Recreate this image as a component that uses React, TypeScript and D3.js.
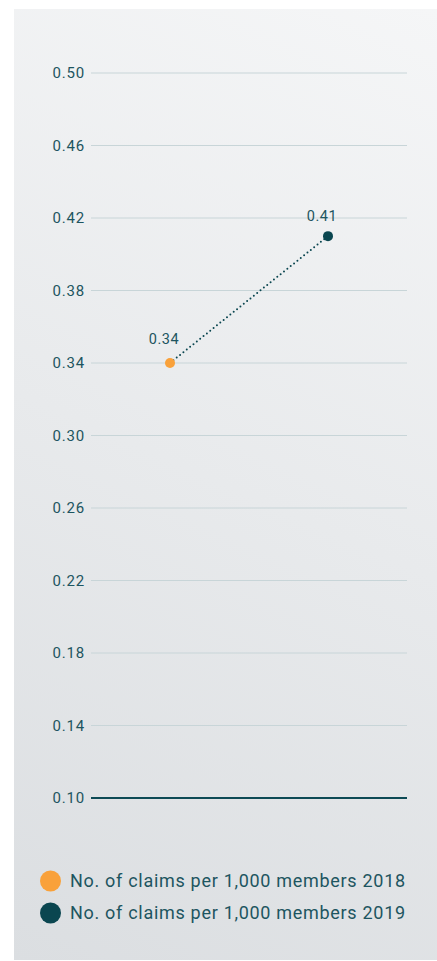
import React from "react";
import * as d3 from "d3";

const years = ["2018", "2019"];
const claimsPer1000 = [0.34, 0.41];
const seriesNames = [
  "No. of claims per 1,000 members 2018",
  "No. of claims per 1,000 members 2019",
];
const seriesColors = ["#f9a13a", "#0a4650"];
const yTicks = [0.5, 0.46, 0.42, 0.38, 0.34, 0.3, 0.26, 0.22, 0.18, 0.14, 0.1];

const W = 437;
const H = 961;
const FONT = "Roboto, 'Noto Sans', sans-serif";
const TEXT = "#1d5560";

export default function App() {
  const y = d3.scaleLinear().domain([0.1, 0.5]).range([798, 73]);
  const x = d3.scalePoint<string>().domain(years).range([170, 328]);
  const pts = years.map((yr, i) => ({ yr, v: claimsPer1000[i] }));
  const line = d3
    .line<{ yr: string; v: number }>()
    .x((d) => x(d.yr) as number)
    .y((d) => y(d.v));

  return (
    <svg
      width={W}
      height={H}
      style={{ position: "absolute", left: 0, top: 0, display: "block" }}
    >
      <defs>
        <linearGradient
          id="panelBg"
          gradientUnits="userSpaceOnUse"
          x1={437}
          y1={9}
          x2={14}
          y2={960}
        >
          <stop offset="0" stopColor="#f5f6f7" />
          <stop offset="1" stopColor="#dbdee1" />
        </linearGradient>
      </defs>
      <rect x={0} y={0} width={W} height={H} fill="#ffffff" />
      <rect x={14} y={9} width={W - 14} height={951} fill="url(#panelBg)" />

      {yTicks.map((t) => (
        <g key={t}>
          <line
            x1={91}
            x2={407}
            y1={y(t)}
            y2={y(t)}
            stroke={t === 0.1 ? "#0d4a55" : "#c8d5d8"}
            strokeWidth={t === 0.1 ? 2 : 1}
          />
          <text
            x={85}
            y={y(t)}
            dy="0.36em"
            textAnchor="end"
            fontFamily={FONT}
            fontSize={15}
            letterSpacing={0.8}
            fill={TEXT}
          >
            {d3.format(".2f")(t)}
          </text>
        </g>
      ))}

      <path
        d={line(pts) ?? ""}
        fill="none"
        stroke="#0a4650"
        strokeWidth={2}
        strokeDasharray="0 4.3"
        strokeLinecap="round"
      />

      {pts.map((p, i) => (
        <g key={p.yr}>
          <circle cx={x(p.yr)} cy={y(p.v)} r={5} fill={seriesColors[i]} />
          <text
            x={(x(p.yr) as number) - 6}
            y={y(p.v) - (i === 0 ? 19 : 15)}
            textAnchor="middle"
            fontFamily={FONT}
            fontSize={14.5}
            letterSpacing={0.5}
            fill={TEXT}
          >
            {d3.format(".2f")(p.v)}
          </text>
        </g>
      ))}

      {seriesNames.map((name, i) => (
        <g key={name} transform={`translate(50.5, ${881 + i * 32})`}>
          <circle cx={0} cy={0} r={10.5} fill={seriesColors[i]} />
          <text
            x={19.5}
            y={0}
            dy="0.35em"
            fontFamily={FONT}
            fontSize={18}
            letterSpacing={0.7}
            fill={TEXT}
          >
            {name}
          </text>
        </g>
      ))}
    </svg>
  );
}
